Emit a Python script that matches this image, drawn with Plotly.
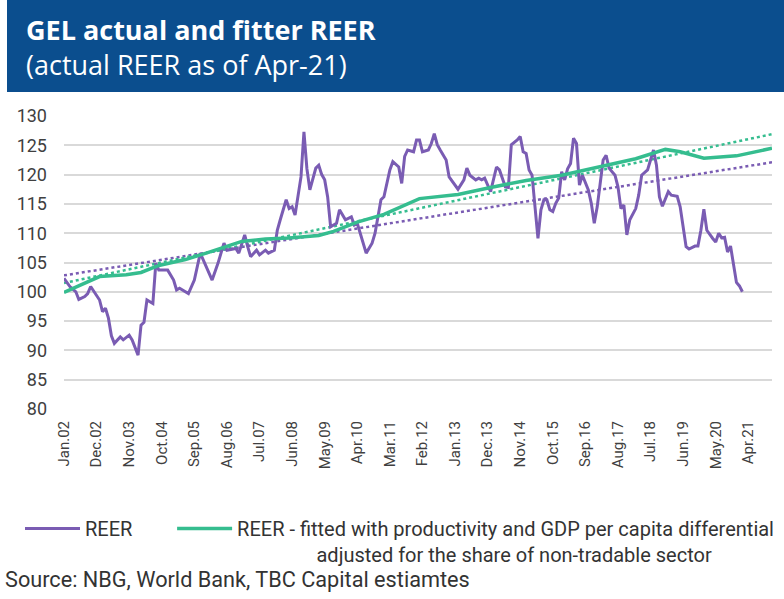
import plotly.graph_objects as go

# ---- data (x = months since Jan 2002) ----
tick_labels = ["Jan.02", "Dec.02", "Nov.03", "Oct.04", "Sep.05", "Aug.06", "Jul.07",
               "Jun.08", "May.09", "Apr.10", "Mar.11", "Feb.12", "Jan.13", "Dec.13",
               "Nov.14", "Oct.15", "Sep.16", "Aug.17", "Jul.18", "Jun.19", "May.20", "Apr.21"]
tick_months = [0, 11, 22, 33, 44, 55, 66, 77, 88, 99, 110, 121, 132, 143, 154, 165,
               176, 187, 198, 209, 220, 231]

reer_month = [0, 2, 4, 5, 7, 8, 9, 11, 12, 13, 14, 15, 16, 17, 19, 20, 22, 23, 25, 26, 27, 28,
              30, 31, 32, 35, 37, 38, 39, 42, 44, 46, 48, 50, 52, 54, 55, 58, 59, 61, 62, 63,
              65, 66, 68, 69, 71, 72, 73, 75, 76, 77, 78, 80, 81, 82, 83, 85, 86, 87, 88, 89,
              90, 92, 93, 94, 95, 97, 98, 99, 100, 101, 102, 104, 105, 107, 108, 110, 111, 113,
              114, 115, 116, 118, 119, 120, 121, 123, 124, 125, 126, 127, 129, 130, 132, 133,
              135, 136, 137, 139, 140, 141, 142, 144, 146, 147, 149, 150, 151, 153, 154, 155,
              156, 157, 158, 160, 161, 162, 163, 164, 165, 166, 167, 168, 169, 170, 171, 172,
              173, 174, 175, 177, 178, 179, 180, 182, 183, 184, 186, 187, 188, 189, 190, 191,
              193, 194, 195, 197, 198, 199, 200, 201, 202, 204, 205, 207, 208, 210, 211, 213,
              214, 215, 216, 217, 219, 220, 221, 222, 223, 224, 225, 226, 227, 228, 229]
reer_value = [102.3, 100.9, 100.0, 98.7, 99.2, 99.7, 100.9, 99.5, 98.6, 96.6, 97.2, 95.5, 92.5,
              91.2, 92.3, 91.8, 92.6, 91.8, 89.2, 94.3, 94.8, 98.6, 98.0, 104.9, 103.7, 103.7,
              102.0, 100.3, 100.6, 99.7, 102.0, 106.6, 104.3, 102.0, 104.9, 108.3, 107.1, 107.4,
              106.6, 109.7, 107.7, 106.0, 107.1, 106.3, 107.1, 106.6, 107.1, 110.5, 112.3, 115.7,
              114.2, 114.5, 113.1, 119.6, 127.3, 121.0, 117.4, 121.1, 121.6, 120.0, 119.1, 116.2,
              111.1, 111.7, 114.0, 113.1, 112.3, 112.8, 111.4, 111.7, 110.0, 108.3, 106.6, 108.3,
              110.0, 115.7, 116.2, 120.8, 122.2, 121.3, 118.5, 123.1, 124.2, 123.9, 125.9, 125.9,
              123.9, 124.2, 125.3, 127.0, 125.1, 124.2, 122.5, 119.6, 118.2, 117.5, 119.1, 121.1,
              119.9, 119.1, 119.4, 119.1, 119.4, 117.1, 121.3, 120.8, 117.9, 117.8, 125.1, 125.9,
              126.5, 123.9, 123.6, 120.8, 119.9, 109.1, 114.0, 115.7, 115.7, 114.0, 113.7, 115.1,
              116.0, 120.5, 119.1, 121.0, 121.9, 126.2, 125.3, 118.2, 119.9, 117.4, 115.1, 111.7,
              114.5, 122.5, 123.3, 121.1, 119.9, 117.9, 114.2, 114.8, 109.7, 112.3, 114.2, 116.5,
              119.9, 120.8, 122.5, 124.2, 121.6, 116.2, 114.6, 117.1, 116.5, 116.3, 114.5, 107.7,
              107.3, 107.8, 107.8, 110.5, 114.1, 110.5, 109.1, 108.5, 110.0, 109.2, 109.3, 106.8,
              107.8, 105.0, 101.6, 101.0, 100.0]

fit_month = [0, 12, 21, 26, 32, 41, 48, 55, 60, 68, 76, 86, 91, 99, 108, 120, 133, 144, 156,
             168, 179, 187, 193, 203, 208, 216, 227, 239]
fit_value = [99.9, 102.6, 102.9, 103.3, 104.5, 105.5, 106.6, 107.7, 108.6, 109.0, 109.2, 109.6,
             110.3, 111.9, 113.2, 115.9, 116.6, 117.8, 119.0, 119.9, 121.1, 122.0, 122.7, 124.3,
             123.9, 122.8, 123.2, 124.5]

trend_month = [0, 239]
trend_reer = [102.8, 122.1]
trend_fit = [101.5, 126.9]

PURPLE = "#7a5cb3"
GREEN = "#35bd8f"

fig = go.Figure()
fig.add_trace(go.Scatter(x=trend_month, y=trend_reer, mode="lines", showlegend=False,
                         line=dict(color=PURPLE, width=2.5, dash="dot"), hoverinfo="skip"))
fig.add_trace(go.Scatter(x=trend_month, y=trend_fit, mode="lines", showlegend=False,
                         line=dict(color=GREEN, width=2.5, dash="dot"), hoverinfo="skip"))
fig.add_trace(go.Scatter(x=reer_month, y=reer_value, mode="lines",
                         name="REER" + "\u00a0" * 7,
                         line=dict(color=PURPLE, width=3)))
fig.add_trace(go.Scatter(
    x=fit_month, y=fit_value, mode="lines",
    name="REER - fitted with productivity and GDP per capita differential<br>"
         + "\u00a0" * 16 + "adjusted for the share of non-tradable sector",
    line=dict(color=GREEN, width=3.5)))

# paper-coordinate helpers: plot area spans x 64..772, y 116..409 in pixels
def px(x):
    return (x - 64) / 708.0

def py(y):
    return (409 - y) / 293.0

fig.add_shape(type="rect", xref="paper", yref="paper", x0=px(7), x1=px(790), y0=py(92), y1=py(-5),
              fillcolor="#0b4e8e", line=dict(width=0), layer="above")

fig.add_annotation(xref="paper", yref="paper", x=px(24), y=py(47), xanchor="left", yanchor="middle",
                   text="<b>GEL actual and fitter REER</b><br>(actual REER as of Apr-21)",
                   showarrow=False, align="left",
                   font=dict(family="Open Sans, sans-serif", size=27, color="white"))

fig.add_annotation(xref="paper", yref="paper", x=px(3), y=py(579), xanchor="left", yanchor="middle",
                   text="Source: NBG, World Bank, TBC Capital estiamtes", showarrow=False,
                   font=dict(family="Roboto, sans-serif", size=21.7, color="#333333"))

fig.update_layout(
    width=784, height=599,
    margin=dict(l=64, r=12, t=116, b=190),
    paper_bgcolor="white", plot_bgcolor="white",
    showlegend=True,
    legend=dict(orientation="h", xref="paper", yref="paper",
                x=px(20), y=py(509), xanchor="left", yanchor="top",
                valign="top", itemwidth=55, traceorder="normal", tracegroupgap=0,
                font=dict(family="Roboto, sans-serif", size=20, color="#333333"),
                bgcolor="rgba(0,0,0,0)"),
    xaxis=dict(range=[0, 239], tickmode="array", tickvals=tick_months, ticktext=tick_labels,
               tickangle=-90, showgrid=False, zeroline=False, showline=False,
               ticks="", ticklabelstandoff=8,
               tickfont=dict(family="Roboto, sans-serif", size=15, color="#404040")),
    yaxis=dict(range=[80, 130], dtick=5, tick0=80, showgrid=True, gridcolor="#d9d9d9",
               gridwidth=1.5, zeroline=False, showline=False, ticks="", ticklabelstandoff=16,
               tickfont=dict(family="Roboto, sans-serif", size=18, color="#404040")),
)

fig.write_html("out.html", config={"displayModeBar": False},
               post_script="document.body.style.margin='0px';document.body.style.overflow='hidden';")
